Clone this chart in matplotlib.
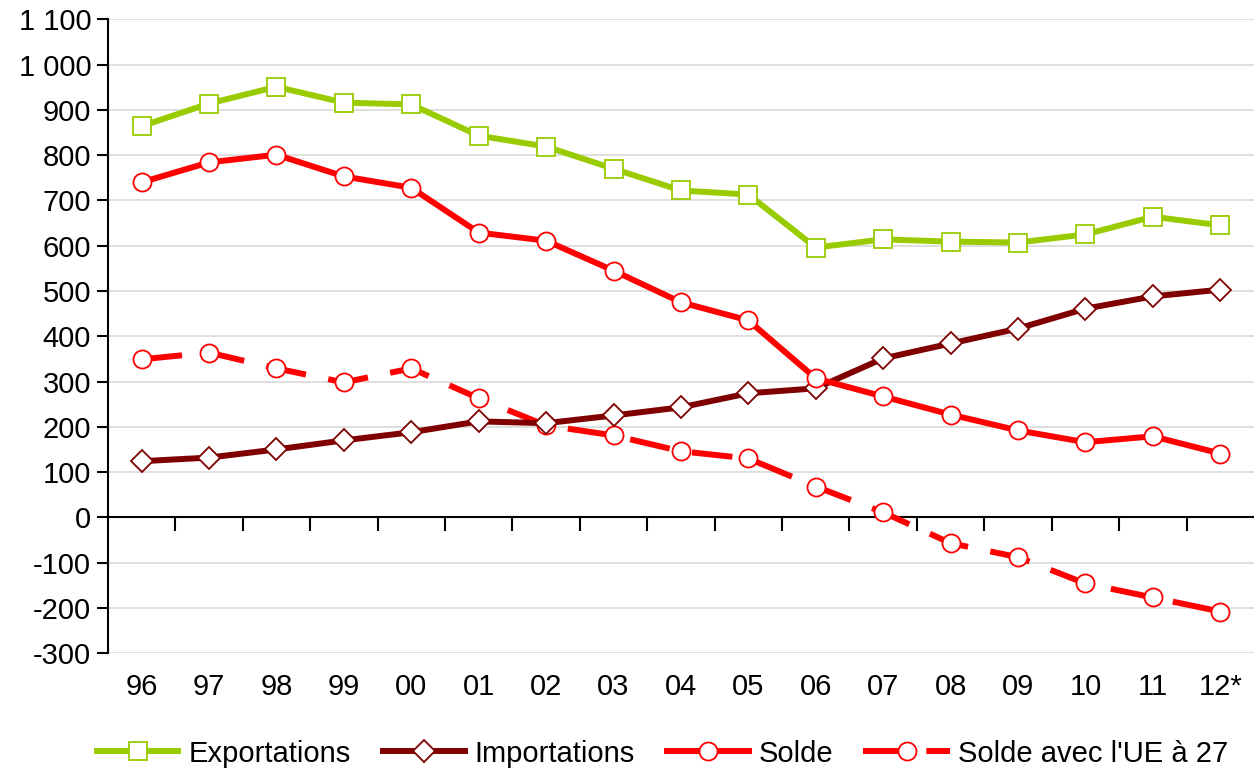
import matplotlib.pyplot as plt
from matplotlib.ticker import FuncFormatter, FixedLocator

plt.rcParams['font.family'] = ['Liberation Sans', 'DejaVu Sans']

# data
years = ['96', '97', '98', '99', '00', '01', '02', '03', '04', '05',
         '06', '07', '08', '09', '10', '11', '12*']
exportations = [864, 914, 951, 916, 912, 843, 819, 770, 722, 713,
                596, 614, 609, 607, 625, 664, 645]
importations = [124, 132, 150, 170, 188, 212, 208, 225, 243, 274,
                285, 351, 384, 417, 461, 488, 503]
solde = [740, 784, 801, 753, 728, 629, 611, 545, 475, 435,
         307, 267, 227, 192, 166, 179, 141]
solde_ue27 = [349, 364, 329, 298, 329, 263, 203, 181, 146, 130,
              68, 11, -57, -88, -146, -177, -208]

fig = plt.figure(figsize=(12.54, 7.73), dpi=100)
ax = fig.add_axes([0.086, 0.155, 0.914, 0.82])

x = list(range(len(years)))
lw = 4.3
common = dict(linewidth=lw, markersize=13, markerfacecolor='white',
              markeredgewidth=1.3, solid_capstyle='butt')

ax.plot(x, exportations, color='#99cc00', marker='s', markeredgecolor='#99cc00',
        label='Exportations', zorder=4, **common)
ax.plot(x, importations, color='#800000', marker='D', markeredgecolor='#800000',
        label='Importations', zorder=4, **dict(common, markersize=11))
ax.plot(x, solde, color='#ff0000', marker='o', markeredgecolor='#ff0000',
        label='Solde', zorder=5, **common)
ax.plot(x, solde_ue27, color='#ff0000', marker='o', markeredgecolor='#ff0000',
        linestyle=(0, (6.8, 3.8)), dash_capstyle='butt',
        label="Solde avec l'UE à 27", zorder=3, **common)

ax.set_xlim(-0.5, len(years) - 0.5)
ax.set_ylim(-300, 1100)
ax.set_yticks(range(-300, 1101, 100))
ax.yaxis.set_major_formatter(FuncFormatter(lambda v, p: f"{int(v):,}".replace(',', ' ')))
ax.grid(axis='y', color='#d9d9d9', linewidth=1.2, zorder=0)
ax.set_axisbelow(True)

for s in ['top', 'right']:
    ax.spines[s].set_visible(False)
ax.spines['left'].set_linewidth(1.5)
ax.spines['bottom'].set_position(('data', 0))
ax.spines['bottom'].set_linewidth(1.5)

ax.set_xticks(x)
ax.set_xticklabels(years)
ax.xaxis.set_minor_locator(FixedLocator([i + 0.5 for i in range(len(years) - 1)]))
ax.tick_params(axis='x', which='major', length=0, pad=112, labelsize=21)
ax.tick_params(axis='x', which='minor', length=10, width=1.5, direction='out')
ax.tick_params(axis='y', length=8, width=1.5, labelsize=21, pad=4)

fig.legend(loc='lower center', bbox_to_anchor=(0.527, -0.027), ncol=4, frameon=False,
           fontsize=21, handlelength=3.0, handletextpad=0.25, columnspacing=1.0)

fig.savefig('out.png', dpi=100)
